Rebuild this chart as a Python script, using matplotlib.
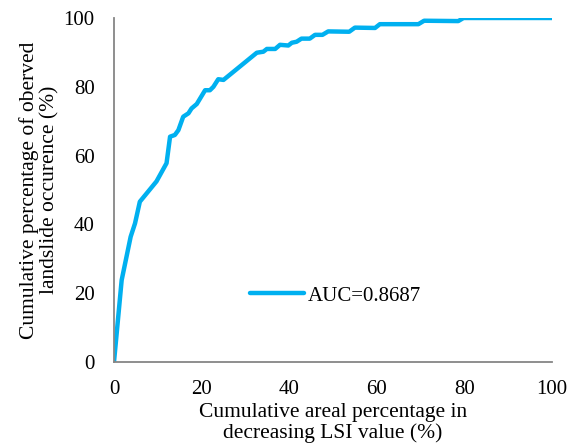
import matplotlib.pyplot as plt
import numpy as np

# cumulative areal percentage (x) vs cumulative landslide occurrence (y)
area_pct = [0, 1.75, 3.8, 4.8, 5.9, 9.7, 12.0, 12.8, 13.9, 14.7, 15.8, 17.0, 17.7,
            18.9, 20.8, 21.9, 22.7, 23.8, 25.0, 32.6, 34.1, 34.9, 36.8, 37.9,
            39.8, 40.6, 41.7, 42.8, 44.7, 45.9, 47.6, 48.9, 53.7, 55.0, 59.6,
            60.7, 69.5, 70.8, 78.6, 79.8, 100]
occ_pct = [0, 23.8, 36.4, 40.3, 46.6, 52.5, 57.8, 65.5, 66.0, 67.4, 71.3, 72.3, 73.7,
           75.0, 79.0, 79.0, 80.0, 82.2, 82.0, 89.9, 90.2, 91.0, 91.0, 92.2,
           92.0, 92.8, 93.1, 94.0, 94.0, 95.1, 95.1, 96.1, 96.0, 97.2, 97.1,
           98.2, 98.2, 99.2, 99.1, 100, 100]
auc_label = "AUC=0.8687"
ticks = [0, 20, 40, 60, 80, 100]

plt.rcParams['font.family'] = ['Liberation Serif', 'DejaVu Serif']

fig = plt.figure(figsize=(5.68, 4.43), dpi=100)
ax = fig.add_axes([0.2007, 0.1828, 0.7711, 0.7766])

ax.plot(area_pct, occ_pct, color='#00B0F0', lw=3.2, solid_capstyle='round',
        solid_joinstyle='round', label=auc_label)

ax.set_xlim(0, 100)
ax.set_ylim(0, 100)
ax.set_xticks(ticks)
ax.set_yticks(ticks)
ax.tick_params(length=0, labelsize=15, colors='black')
ax.tick_params(axis='y', pad=14)
ax.tick_params(axis='x', pad=13)

for s in ['top', 'right']:
    ax.spines[s].set_visible(False)
for s in ['left', 'bottom']:
    ax.spines[s].set_color('#868686')
    ax.spines[s].set_linewidth(1.3)

ax.set_xlabel('Cumulative areal percentage in\ndecreasing LSI value (%)',
              fontsize=15.5, linespacing=1.12, labelpad=2.5)
ax.set_ylabel('Cumulative percentage of oberved\nlandslide occurence (%)',
              fontsize=15.5, linespacing=1.05)
ax.yaxis.set_label_coords(-0.125, 0.5)

ax.legend(loc='center left', bbox_to_anchor=(0.31, 0.192), frameon=False,
          fontsize=15, handlelength=2.6, handletextpad=0.2,
          borderaxespad=0, borderpad=0)

fig.savefig('out.png', dpi=100)
